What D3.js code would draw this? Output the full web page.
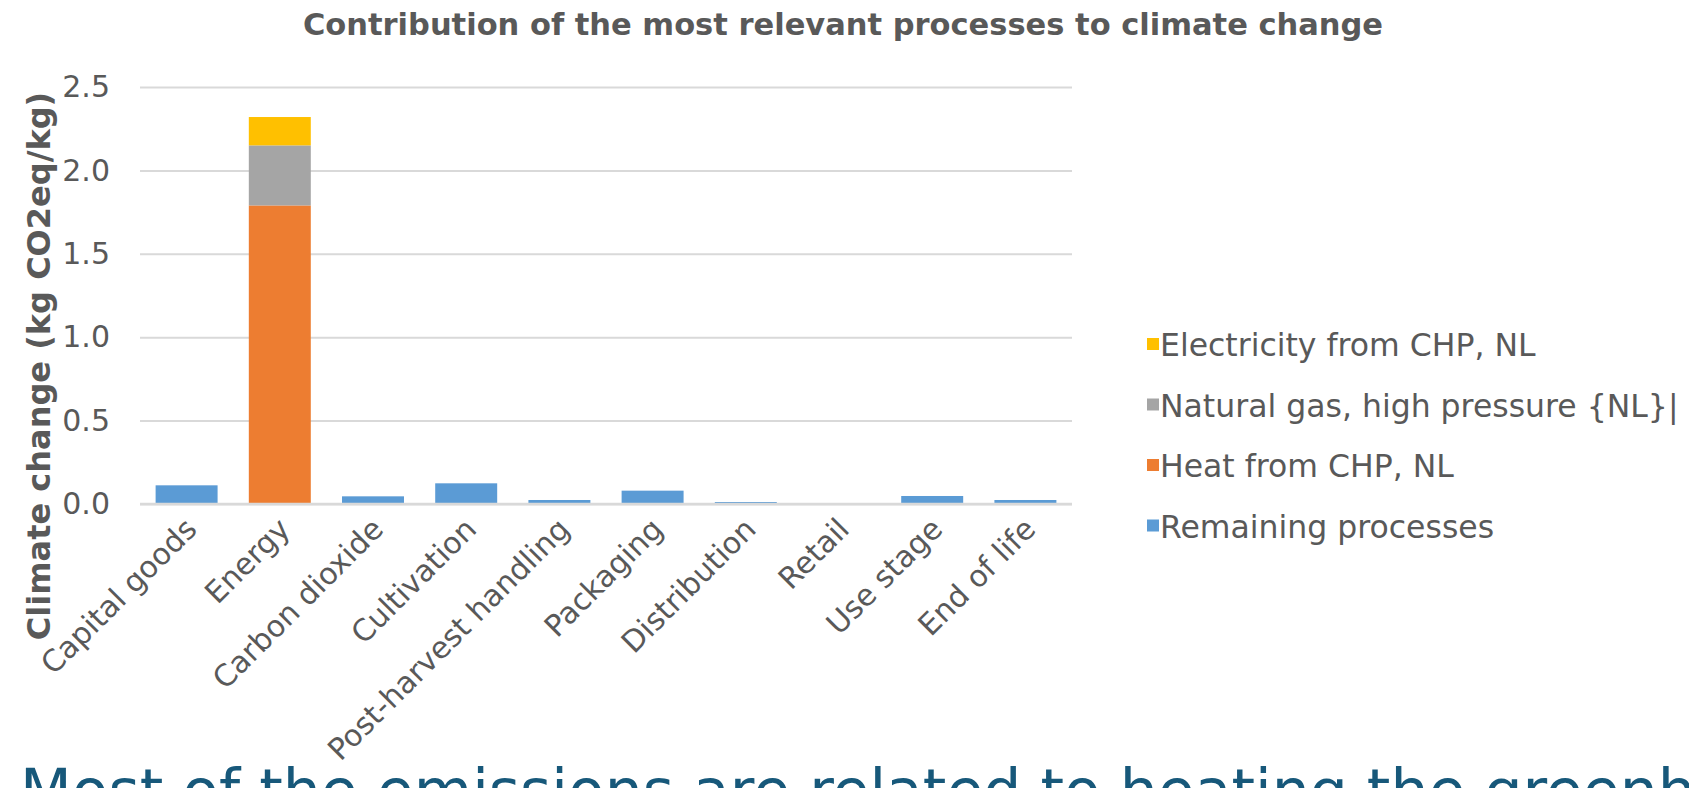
<!DOCTYPE html>
<html>
<head>
<meta charset="utf-8">
<script src="https://cdn.jsdelivr.net/npm/d3@7"></script>
<style>
  body { margin: 0; background: #ffffff; overflow: hidden; }
  text { font-family: "DejaVu Sans", Verdana, sans-serif; fill: #595959; }
</style>
</head>
<body>
<div id="chart"></div>
<script>

// categories along the x axis
let categories = ["Capital goods", "Energy", "Carbon dioxide", "Cultivation", "Post-harvest handling",
    "Packaging", "Distribution", "Retail", "Use stage", "End of life"];

// contribution per process (kg CO2eq/kg)
let remainingProcesses = [0.112, 0, 0.046, 0.124, 0.024, 0.080, 0.012, 0.001, 0.048, 0.024];
let heatFromCHP        = [0, 1.79, 0, 0, 0, 0, 0, 0, 0, 0];
let naturalGas         = [0, 0.36, 0, 0, 0, 0, 0, 0, 0, 0];
let electricityFromCHP = [0, 0.17, 0, 0, 0, 0, 0, 0, 0, 0];

let seriesKeys  = ["remaining", "heat", "gas", "electricity"];
let seriesNames = ["Remaining processes", "Heat from CHP, NL", "Natural gas, high pressure {NL}|", "Electricity from CHP, NL"];
let seriesColors = ["#5b9bd5", "#ed7d31", "#a5a5a5", "#ffc000"];

let yTicks = [0, 0.5, 1.0, 1.5, 2.0, 2.5];

let chartTitle = "Contribution of the most relevant processes to climate change";
let yTitle = "Climate change (kg CO2eq/kg)";
let footerText = "Most of the emissions are related to heating the greenhouse";

// build rows for d3.stack
let rows = categories.map(function(c, i) {
    return {
        category: c,
        remaining: remainingProcesses[i],
        heat: heatFromCHP[i],
        gas: naturalGas[i],
        electricity: electricityFromCHP[i]
    };
});

let width = 1689, height = 788;
let margin = { top: 87, right: 617, bottom: 284, left: 140 };
let plotW = width - margin.left - margin.right;
let plotH = height - margin.top - margin.bottom;

let svg = d3.select("#chart").append("svg")
    .attr("width", width)
    .attr("height", height);

let g = svg.append("g")
    .attr("transform", "translate(" + margin.left + "," + margin.top + ")");

// scales
let x = d3.scaleBand()
    .domain(categories)
    .range([0, plotW])
    .paddingInner(0.335)
    .paddingOuter(0.1675);

let y = d3.scaleLinear()
    .domain([0, 2.5])
    .range([plotH, 0]);

// gridlines
let grid = g.append("g")
    .attr("class", "grid")
    .call(d3.axisLeft(y).tickValues(yTicks).tickSize(-plotW).tickFormat(""));
grid.select(".domain").remove();
grid.selectAll("line")
    .attr("stroke", "#d9d9d9")
    .attr("stroke-width", 2);

// y axis labels
let yAxis = g.append("g")
    .call(d3.axisLeft(y).tickValues(yTicks).tickSize(0).tickPadding(30).tickFormat(d3.format(".1f")));
yAxis.select(".domain").remove();
yAxis.selectAll("text")
    .style("font-size", "30px")
    .attr("fill", "#595959");

// stacked bars
let stack = d3.stack().keys(seriesKeys);
let stacked = stack(rows);

g.selectAll(".layer")
    .data(stacked)
    .enter().append("g")
    .attr("class", "layer")
    .attr("fill", function(d, i) { return seriesColors[i]; })
    .selectAll("rect")
    .data(function(d) { return d; })
    .enter().append("rect")
    .attr("x", function(d) { return x(d.data.category); })
    .attr("y", function(d) { return y(d[1]); })
    .attr("width", x.bandwidth())
    .attr("height", function(d) { return Math.max(0, y(d[0]) - y(d[1])); });

// x axis baseline
g.append("line")
    .attr("x1", 0)
    .attr("x2", plotW)
    .attr("y1", y(0))
    .attr("y2", y(0))
    .attr("stroke", "#d9d9d9")
    .attr("stroke-width", 2.5);

// x axis labels, rotated
let xAxis = g.append("g")
    .attr("transform", "translate(0," + plotH + ")")
    .call(d3.axisBottom(x).tickSize(0).tickPadding(0));
xAxis.select(".domain").remove();
xAxis.selectAll("text")
    .style("font-size", "30px")
    .attr("fill", "#595959")
    .attr("text-anchor", "end")
    .attr("dy", "0")
    .attr("transform", "translate(12,27) rotate(-45)");

// chart title
svg.append("text")
    .attr("x", 843)
    .attr("y", 35)
    .attr("text-anchor", "middle")
    .style("font-size", "30.5px")
    .style("font-weight", "bold")
    .text(chartTitle);

// y axis title
svg.append("text")
    .attr("transform", "translate(50," + (margin.top + 279) + ") rotate(-90)")
    .attr("text-anchor", "middle")
    .style("font-size", "32px")
    .style("font-weight", "bold")
    .text(yTitle);

// legend (reverse order: top item is last series)
let legendOrder = d3.range(seriesKeys.length).reverse();
let legend = svg.append("g")
    .attr("transform", "translate(1147,345)");

let item = legend.selectAll(".item")
    .data(legendOrder)
    .enter().append("g")
    .attr("class", "item")
    .attr("transform", function(d, i) { return "translate(0," + (i * 60.5) + ")"; });

item.append("rect")
    .attr("x", 0)
    .attr("y", -7)
    .attr("width", 12)
    .attr("height", 12)
    .attr("fill", function(d) { return seriesColors[d]; });

item.append("text")
    .attr("x", 13)
    .attr("y", 11)
    .style("font-size", "31.5px")
    .text(function(d) { return seriesNames[d]; });

// slide headline, cut off at the bottom edge
svg.append("text")
    .attr("x", 20)
    .attr("y", 812)
    .style("font-size", "60px")
    .style("fill", "#17587a")
    .text(footerText);

</script>
</body>
</html>
